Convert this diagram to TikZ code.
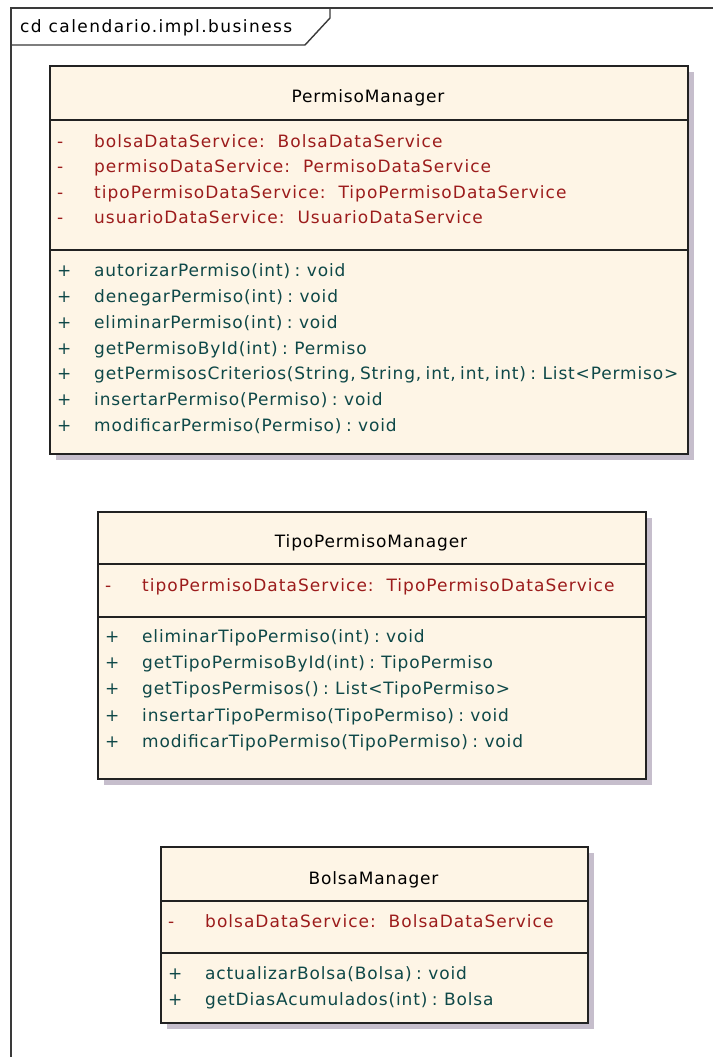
\documentclass[tikz,border=0pt]{standalone}
\usepackage{fontspec}
\setmainfont{DejaVu Sans}[LetterSpace=5]
\newfontfamily\attrfont{DejaVu Sans}[LetterSpace=6]
\newfontfamily\operfont{DejaVu Sans}[LetterSpace=5, WordSpace=0.7]
\newfontfamily\tabfont{DejaVu Sans}[LetterSpace=8.5]
\usetikzlibrary{shadows}

\definecolor{classfill}{HTML}{FEF5E6}
\definecolor{attrred}{HTML}{9C1C1C}
\definecolor{opteal}{HTML}{0E4848}
\definecolor{shadowgray}{HTML}{C6BECC}
\definecolor{boxline}{HTML}{222222}
\definecolor{framegray}{HTML}{3A3A3A}

\begin{document}
\begin{tikzpicture}[x=1pt,y=-1pt,
  every node/.style={font=\fontsize{17}{20}\selectfont},
  classbox/.style={draw=boxline, line width=1.6pt, fill=classfill,
    anchor=north west, inner sep=0pt,
    drop shadow={shadow xshift=6pt, shadow yshift=-6pt,
      fill=shadowgray, opacity=1}},
  classname/.style={anchor=base, inner sep=0pt, text=black},
  vis/.style={anchor=base west, inner sep=0pt},
  attr/.style={anchor=base west, inner sep=0pt, text=attrred,
    font=\attrfont\fontsize{17}{20}\selectfont},
  oper/.style={anchor=base west, inner sep=0pt, text=opteal,
    font=\operfont\fontsize{17}{20}\selectfont},
  sep/.style={draw=boxline, line width=1.6pt}]

% page
\fill[white] (0,0) rectangle (712,1057);
\useasboundingbox (0,0) rectangle (712,1057);

% package frame with its name tab
\draw[framegray, line width=1.6pt] (11,1060) -- (11,8) -- (714,8);
\draw[framegray, line width=1.4pt] (11,45) -- (305,45) -- (330,18) -- (330,8);
\node[vis, text=black, font=\tabfont\fontsize{17}{20}\selectfont]
  (frametitle) at (20,33) {cd calendario.impl.business};

% ---------------- PermisoManager ----------------
\node[classbox, minimum width=638pt, minimum height=388pt] (pm) at (49,65) {};
\draw[sep] (pm.west |- 0,120) -- (pm.east |- 0,120);
\draw[sep] (pm.west |- 0,250) -- (pm.east |- 0,250);
\node[classname] (pmname) at (368,102.7) {PermisoManager};
\foreach \t [count=\i] in {
    {bolsaDataService:\ \ BolsaDataService},
    {permisoDataService:\ \ PermisoDataService},
    {tipoPermisoDataService:\ \ TipoPermisoDataService},
    {usuarioDataService:\ \ UsuarioDataService}} {
  \node[vis, text=attrred] (pmv\i) at (57,{147+25.5*(\i-1)}) {-};
  \node[attr] (pma\i) at (94,{147+25.5*(\i-1)}) {\t};
}
\foreach \t [count=\i] in {
    {autorizarPermiso(int) : void},
    {denegarPermiso(int) : void},
    {eliminarPermiso(int) : void},
    {getPermisoById(int) : Permiso},
    {getPermisosCriterios(String, String, int, int, int) : List<Permiso>},
    {insertarPermiso(Permiso) : void},
    {modificarPermiso(Permiso) : void}} {
  \node[vis, text=opteal] (pmp\i) at (57,{276.7+25.8*(\i-1)}) {+};
  \node[oper] (pmo\i) at (94,{276.7+25.8*(\i-1)}) {\t};
}

% ---------------- TipoPermisoManager ----------------
\node[classbox, minimum width=548pt, minimum height=267pt] (tpm) at (97,511) {};
\draw[sep] (tpm.west |- 0,564) -- (tpm.east |- 0,564);
\draw[sep] (tpm.west |- 0,617) -- (tpm.east |- 0,617);
\node[classname] (tpmname) at (371,547.7) {TipoPermisoManager};
\node[vis, text=attrred] (tpmv1) at (105,591.7) {-};
\node[attr] (tpma1) at (142,591.7) {tipoPermisoDataService:\ \ TipoPermisoDataService};
\foreach \t [count=\i] in {
    {eliminarTipoPermiso(int) : void},
    {getTipoPermisoById(int) : TipoPermiso},
    {getTiposPermisos() : List<TipoPermiso>},
    {insertarTipoPermiso(TipoPermiso) : void},
    {modificarTipoPermiso(TipoPermiso) : void}} {
  \node[vis, text=opteal] (tpmp\i) at (105,{642.3+26.25*(\i-1)}) {+};
  \node[oper] (tpmo\i) at (142,{642.3+26.25*(\i-1)}) {\t};
}

% ---------------- BolsaManager ----------------
\node[classbox, minimum width=427pt, minimum height=176pt] (bm) at (160,846) {};
\draw[sep] (bm.west |- 0,901) -- (bm.east |- 0,901);
\draw[sep] (bm.west |- 0,953) -- (bm.east |- 0,953);
\node[classname] (bmname) at (373.5,884.3) {BolsaManager};
\node[vis, text=attrred] (bmv1) at (168,927.3) {-};
\node[attr] (bma1) at (205,927.3) {bolsaDataService:\ \ BolsaDataService};
\node[vis, text=opteal] (bmp1) at (168,979.3) {+};
\node[oper] (bmo1) at (205,979.3) {actualizarBolsa(Bolsa) : void};
\node[vis, text=opteal] (bmp2) at (168,1005.5) {+};
\node[oper] (bmo2) at (205,1005.5) {getDiasAcumulados(int) : Bolsa};

\end{tikzpicture}
\end{document}
